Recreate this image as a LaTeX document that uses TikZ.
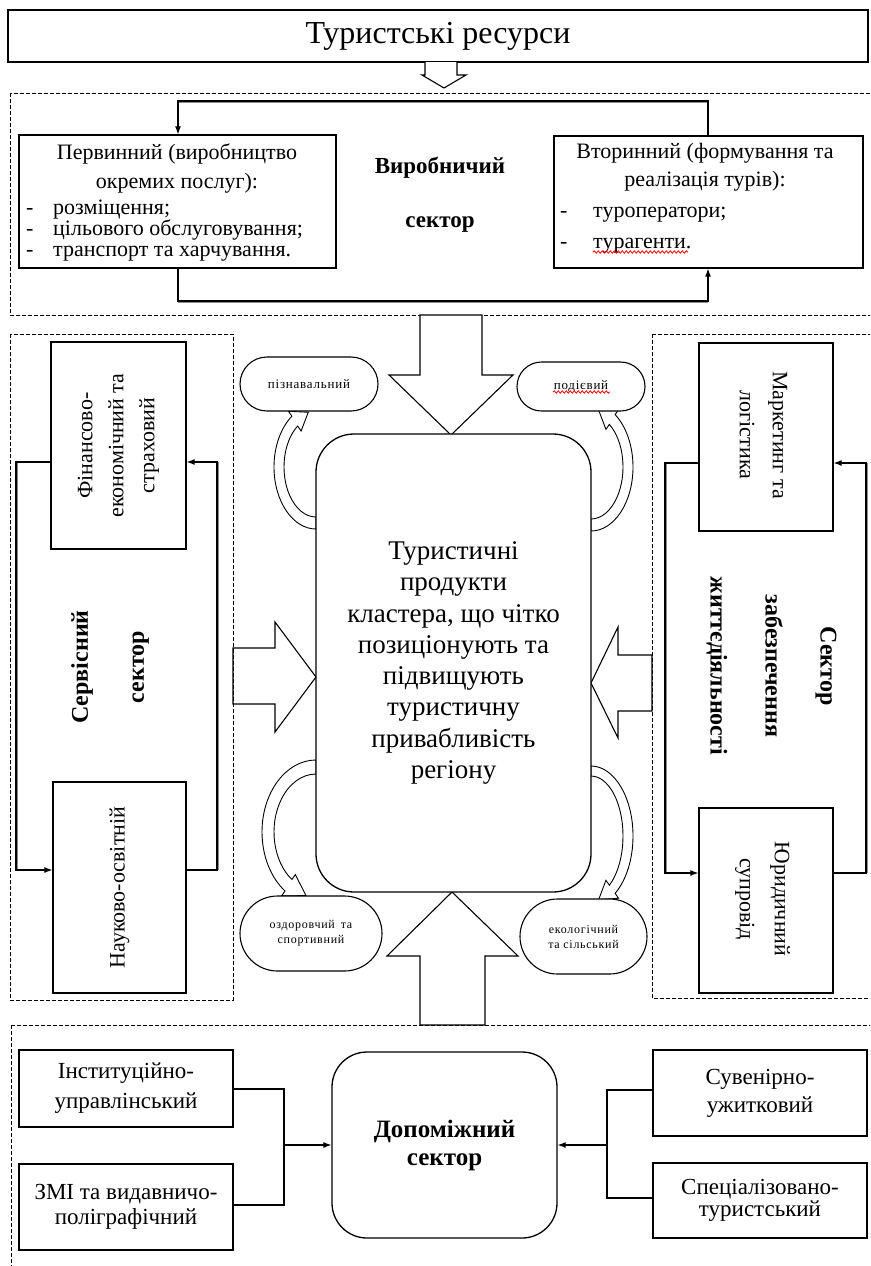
\documentclass[tikz,border=0pt]{standalone}
\usepackage{fontspec}
\setmainfont{Liberation Serif}
\newfontfamily\smallf[LetterSpace=6]{Liberation Serif}
\usetikzlibrary{arrows.meta,calc,decorations.pathmorphing,shapes.misc}
\newcommand\fsz[2]{\fontsize{#1}{#2}\selectfont}
% curved block arrow: cx cy aout bout ain bin startangle endangle tipangle
\newcommand\cbarrow[9]{%
  \pgfmathsetmacro\cbSx{#1+#3*cos(#7)}\pgfmathsetmacro\cbSy{#2+#4*sin(#7)}%
  \pgfmathsetmacro\cbOx{#1+(#3+6)*cos(#8)}\pgfmathsetmacro\cbOy{#2+(#4+6)*sin(#8)}%
  \pgfmathsetmacro\cbTx{#1+(#3+#5)/2*cos(#9)}\pgfmathsetmacro\cbTy{#2+(#4+#6)/2*sin(#9)}%
  \pgfmathsetmacro\cbIx{#1+(#5-6)*cos(#8)}\pgfmathsetmacro\cbIy{#2+(#6-6)*sin(#8)}%
  \pgfmathsetmacro\cbJx{#1+#5*cos(#8)}\pgfmathsetmacro\cbJy{#2+#6*sin(#8)}%
  \draw[cba] (\cbSx,\cbSy) arc[start angle=#7, end angle=#8, x radius=#3, y radius=#4]
    -- (\cbOx,\cbOy) -- (\cbTx,\cbTy) -- (\cbIx,\cbIy) -- (\cbJx,\cbJy)
    arc[start angle=#8, end angle=#7, x radius=#5, y radius=#6] -- cycle;}
\newcommand\bul[1]{\makebox[27pt][l]{-}#1}
\begin{document}
\begin{tikzpicture}[x=1pt,y=-1pt,
  box/.style={draw, line width=1.3pt, fill=white, inner sep=0pt},
  dbox/.style={draw, line width=0.9pt, dash pattern=on 4pt off 2pt},
  blk/.style={draw, line width=1.1pt, fill=white, line join=miter},
  cba/.style={draw, line width=0.9pt, fill=white},
  lnk/.style={line width=1.1pt},
  arr/.style={line width=1.1pt, -{Latex[length=8pt,width=6pt]}},
  gry/.style={line width=3pt, black!45},
  stad/.style={draw, line width=1.1pt, fill=white, rounded rectangle, inner sep=0pt},
  lbl/.style={inner sep=0pt},
  squig/.style={red, line width=0.8pt, decorate, decoration={snake, amplitude=1.2pt, segment length=4pt}}
]
\useasboundingbox (0,0) rectangle (870,1266);
\clip (0,0) rectangle (870,1266);
\fill[white] (0,0) rectangle (870,1266);

% ---------- title ----------
\node[box, minimum width=860, minimum height=52] (title) at (438,36) {\fsz{32}{36}Туристські ресурси};
\draw[blk] (425,62) -- (425,75) -- (422,75) -- (444,88) -- (466,75) -- (457,75) -- (457,62);

% ---------- production sector ----------
\draw[dbox] (10,93) rectangle (875,315);
\node[box, minimum width=317, minimum height=133] (prim) at (177.5,201.5) {};
\node[box, minimum width=309, minimum height=132] (sec) at (708.5,202) {};

\node[lbl, anchor=base, font=\fsz{22}{24}] (p1) at (177,159) {Первинний (виробництво};
\node[lbl, anchor=base, font=\fsz{22}{24}] (p2) at (177,188) {окремих послуг):};
\node[lbl, anchor=base west, align=left, font=\fsz{22}{21}] (pb) at (26,256)
  {\bul{розміщення;}\\\bul{цільового обслуговування;}\\\bul{транспорт та харчування.}};

\node[lbl, anchor=base, font=\fsz{22}{24}] (s1t) at (705,158) {Вторинний (формування та};
\node[lbl, anchor=base, font=\fsz{22}{24}] (s2t) at (705,186) {реалізація турів):};
\node[lbl, anchor=base west, align=left, font=\fsz{22}{31}] (sb) at (560,248)
  {\makebox[33pt][l]{-}туроператори;\\\makebox[33pt][l]{-}турагенти.};
\draw[squig] (593,252) -- (688,252);

\node[lbl, font=\bfseries\fsz{23}{25}] (vs1) at (440,168) {Виробничий};
\node[lbl, font=\bfseries\fsz{23}{25}] (vs2) at (440,225) {сектор};

\coordinate (pT) at (0,101); \coordinate (pB) at (0,301);
\coordinate (pL) at (178,0); \coordinate (pR) at (708,0);
\draw[gry] (pL |- pT) -- (pR |- pT);
\draw[arr] (sec.north -| pR) -- (pR |- pT) -- (pL |- pT) -- (prim.north -| pL);
\draw[gry] (pL |- pB) -- (pR |- pB);
\draw[arr] (prim.south -| pL) -- (pL |- pB) -- (pR |- pB) -- (sec.south -| pR);

% ---------- big block arrows ----------
\draw[blk] (420,315) -- (420,375) -- (389,375) -- (451,435) -- (513,375) -- (482,375) -- (482,315) -- cycle;
\draw[blk] (420,1025) -- (420,956) -- (387,956) -- (452,892) -- (518,956) -- (485,956) -- (485,1025) -- cycle;
\draw[blk] (233,648) -- (275,648) -- (275,622) -- (316,677) -- (275,732) -- (275,704) -- (233,704) -- cycle;
\draw[blk] (652,655) -- (618,655) -- (618,627) -- (591,683) -- (618,738) -- (618,711) -- (652,711) -- cycle;

% ---------- curved arrows ----------
\cbarrow{316}{467}{42}{62}{32}{50}{90}{235}{258}
\cbarrow{591}{467}{42}{64}{32}{52}{90}{-55}{-78}
\cbarrow{316}{832}{54}{72}{42}{58}{270}{125}{102}
\cbarrow{591}{836}{42}{70}{32}{60}{-90}{55}{78}

% ---------- central box ----------
\node[box, rounded corners=38pt, minimum width=275, minimum height=458, align=center,
      font=\fsz{27}{31.3}] (tp) at (453.5,663)
  {Туристичні\\продукти\\кластера, що чітко\\позиціонують та\\підвищують\\туристичну\\привабливість\\регіону};

% ---------- small stadiums ----------
\node[stad, minimum width=138, minimum height=54, font=\smallf\fsz{13}{14}] (st1) at (309,384) {пізнавальний};
\node[stad, minimum width=128, minimum height=49, font=\smallf\fsz{13}{14}] (st2) at (581,386.5) {подієвий};
\draw[squig] (553,392) -- (610,392);
\node[stad, minimum width=142, minimum height=75, align=center, font=\smallf\fsz{12}{15}] (st3) at (311,933.5) {оздоровчий\enspace та\\спортивний};
\node[stad, minimum width=127, minimum height=75, align=center, font=\smallf\fsz{12}{15}] (st4) at (583.5,936.5) {екологічний\\та сільський};

% ---------- service sector ----------
\draw[dbox] (10,334) rectangle (233,1000);
\node[box, minimum width=135, minimum height=207] (fin) at (118.5,445.5) {};
\node[box, minimum width=133, minimum height=211] (sci) at (119.5,887.5) {};
\node[lbl, rotate=90, align=center, font=\fsz{22}{31}] (fint) at (fin.center) {Фінансово-\\економічний та\\страховий};
\node[lbl, rotate=90, font=\fsz{22}{24}] (scit) at (sci.center) {Науково-освітній};
\node[lbl, rotate=90, align=center, font=\bfseries\fsz{24}{56}] (svc) at (110,667) {Сервісний\\сектор};
\coordinate (sT) at (0,462); \coordinate (sB) at (0,870);
\coordinate (sL) at (16,0); \coordinate (sR) at (217,0);
\draw[gry] (sL |- sT) -- (sL |- sB);
\draw[arr] (fin.west |- sT) -- (sL |- sT) -- (sL |- sB) -- (sci.west |- sB);
\draw[gry] (sR |- sB) -- (sR |- sT);
\draw[arr] (sci.east |- sB) -- (sR |- sB) -- (sR |- sT) -- (fin.east |- sT);

% ---------- life-support sector ----------
\draw[dbox] (652,334) rectangle (875,998);
\node[box, minimum width=134, minimum height=188] (mkt) at (766,437) {};
\node[box, minimum width=134, minimum height=185] (leg) at (766,900.5) {};
\node[lbl, rotate=-90, align=center, font=\fsz{22}{33}] (mktt) at (763.5,435) {Маркетинг та\\логістика};
\node[lbl, rotate=-90, align=center, font=\fsz{22}{35}] (legt) at (762.5,899) {Юридичний\\супровід};
\node[lbl, rotate=-90, align=center, font=\bfseries\fsz{24}{55}] (lsec) at (771.5,666) {Сектор\\забезпечення\\життєдіяльності};
\coordinate (rT) at (0,463); \coordinate (rB) at (0,873);
\coordinate (rL) at (665,0); \coordinate (rR) at (866,0);
\draw[gry] (rL |- rT) -- (rL |- rB);
\draw[arr] (mkt.west |- rT) -- (rL |- rT) -- (rL |- rB) -- (leg.west |- rB);
\draw[gry] (rR |- rB) -- (rR |- rT);
\draw[arr] (leg.east |- rB) -- (rR |- rB) -- (rR |- rT) -- (mkt.east |- rT);

% ---------- auxiliary sector ----------
\draw[dbox] (11,1025) rectangle (875,1300);
\node[box, minimum width=214, minimum height=77, align=center, font=\fsz{23}{30}] (inst) at (126,1088.5) {Інституційно-\\управлінський};
\node[box, minimum width=214, minimum height=86, align=center, font=\fsz{23}{25}] (zmi) at (126,1207) {ЗМІ та видавничо-\\поліграфічний};
\node[box, rounded corners=35pt, minimum width=225, minimum height=186, align=center, font=\bfseries\fsz{25}{28}] (dop) at (444.5,1145) {Допоміжний\\сектор};
\node[box, minimum width=214, minimum height=86, align=center, font=\fsz{23}{28}] (suv) at (760,1093) {Сувенірно-\\ужитковий};
\node[box, minimum width=214, minimum height=75, align=center, font=\fsz{23}{22}] (spec) at (760,1200.5) {Спеціалізовано-\\туристський};
\coordinate (bL) at (284,0); \coordinate (bR) at (607,0); \coordinate (bM) at (0,1145);
\coordinate (i1) at (0,1089); \coordinate (z1) at (0,1205);
\coordinate (u1) at (0,1090); \coordinate (c1) at (0,1198);
\draw[lnk] (inst.east |- i1) -- (bL |- i1) -- (bL |- z1) -- (zmi.east |- z1);
\draw[arr] (bL |- bM) -- (dop.west);
\draw[lnk] (suv.west |- u1) -- (bR |- u1) -- (bR |- c1) -- (spec.west |- c1);
\draw[arr] (bR |- bM) -- (dop.east);
\end{tikzpicture}
\end{document}
